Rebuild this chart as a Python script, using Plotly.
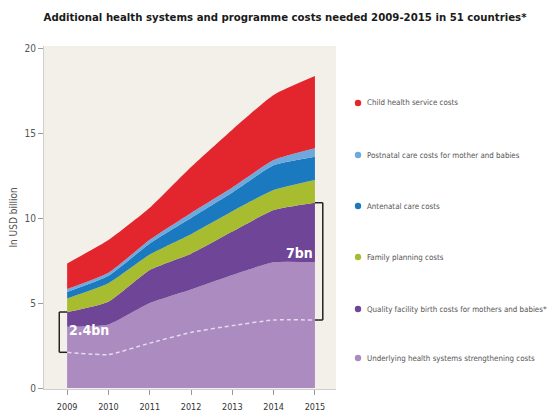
import plotly.graph_objects as go

years = [2009, 2010, 2011, 2012, 2013, 2014, 2015]

# component costs (USD billion), stacked bottom -> top
underlying = [3.6, 3.74, 5.0, 5.8, 6.65, 7.4, 7.4]
quality_birth = [0.87, 1.34, 1.94, 2.1, 2.55, 3.07, 3.5]
family_planning = [0.8, 1.08, 0.91, 1.15, 1.2, 1.18, 1.34]
antenatal = [0.38, 0.44, 0.65, 0.95, 1.1, 1.45, 1.36]
postnatal = [0.17, 0.18, 0.22, 0.3, 0.3, 0.31, 0.5]
child_health = [1.51, 1.92, 1.88, 2.7, 3.4, 3.83, 4.25]

# dashed reference line inside the underlying layer
baseline = [2.1, 1.97, 2.64, 3.27, 3.67, 4.0, 4.0]

series_names = [
    "Underlying health systems strengthening costs",
    "Quality facility birth costs for mothers and babies**",
    "Family planning costs",
    "Antenatal care costs",
    "Postnatal care costs for mother and babies",
    "Child health service costs",
]
series_values = [underlying, quality_birth, family_planning, antenatal, postnatal, child_health]
colors = ["#ab8bc0", "#6f4597", "#a7bd2f", "#1b79c0", "#6ea9dd", "#e3262d"]

bracket_labels = ["2.4bn", "7bn"]
title_text = "Additional health systems and programme costs needed 2009-2015 in 51 countries*"
y_title = "In USD billion"

FONT = "DejaVu Sans Condensed, Liberation Sans Narrow, Roboto, sans-serif"

fig = go.Figure()
for name, vals, col in zip(series_names, series_values, colors):
    fig.add_trace(go.Scatter(
        x=years, y=vals, name=name, stackgroup="one", mode="none",
        fillcolor=col, line=dict(shape="spline", smoothing=0.5, width=0),
        showlegend=False, hoverinfo="skip",
    ))

fig.add_trace(go.Scatter(
    x=years, y=baseline, mode="lines", showlegend=False,
    line=dict(color="#e6dcee", width=1.5, dash="4px,3px", shape="spline", smoothing=0.5),
))

# bracket end points derived from data
top09 = underlying[0] + quality_birth[0]
top15 = underlying[-1] + quality_birth[-1]
shapes = []
bl = years[0] - 0.19
br = years[-1] + 0.19
for (xv, x0, y0, y1) in [(bl, years[0], baseline[0], top09), (br, years[-1], baseline[-1], top15)]:
    shapes.append(dict(type="line", x0=xv, x1=xv, y0=y0, y1=y1, xref="x", yref="y",
                       line=dict(color="#222222", width=1.5)))
    shapes.append(dict(type="line", x0=xv, x1=x0, y0=y0, y1=y0, xref="x", yref="y",
                       line=dict(color="#222222", width=1.5)))
    shapes.append(dict(type="line", x0=xv, x1=x0, y0=y1, y1=y1, xref="x", yref="y",
                       line=dict(color="#222222", width=1.5)))

annotations = [
    dict(x=years[0] + 0.0, y=3.4, xref="x", yref="y", text="<b>" + bracket_labels[0] + "</b>",
         showarrow=False, xanchor="left", yanchor="middle",
         font=dict(family=FONT, size=14, color="white")),
    dict(x=years[-1] - 0.0, y=7.95, xref="x", yref="y", text="<b>" + bracket_labels[1] + "</b>",
         showarrow=False, xanchor="right", yanchor="middle",
         font=dict(family=FONT, size=14, color="white")),
]

# page offset (browser body margin) compensation
OFF = 8
W, H = 555 - OFF, 416 - OFF
# plot area in window pixels
plot_l, plot_r, plot_t, plot_b = 44, 336, 46, 389
pw, ph = plot_r - plot_l, plot_b - plot_t

# manual legend (top item = child health)
leg_y = [103, 155, 206, 257, 309, 358]
for i, idx in enumerate(range(len(series_names) - 1, -1, -1)):
    py = leg_y[i]
    yp = (plot_b - py) / ph
    xm = (358 - plot_l) / pw
    r = 3.2
    shapes.append(dict(type="circle", xref="paper", yref="paper",
                       x0=xm - r / pw, x1=xm + r / pw, y0=yp - r / ph, y1=yp + r / ph,
                       fillcolor=colors[idx], line=dict(width=0)))
    annotations.append(dict(x=(365 - plot_l) / pw, y=yp, xref="paper", yref="paper",
                            text=series_names[idx], showarrow=False, xanchor="left", yanchor="middle",
                            font=dict(family=FONT, size=7.9, color="#555555")))

fig.update_layout(
    width=W, height=H,
    margin=dict(l=plot_l - OFF, r=W - (plot_r - OFF), t=plot_t - OFF, b=H - (plot_b - OFF)),
    paper_bgcolor="white", plot_bgcolor="#f3f0ea",
    title=dict(text="<b>" + title_text + "</b>", x=(285 - OFF) / W, xanchor="center",
               y=1 - (17 - OFF) / H, yanchor="middle",
               font=dict(family=FONT, size=11.3, color="#1a1a1a")),
    xaxis=dict(range=[2008.44, 2015.51], tickmode="array", tickvals=years, automargin=False,
               ticktext=[str(y) for y in years], showgrid=False, zeroline=False,
               showline=True, linecolor="#cfcfcf", linewidth=1,
               ticks="outside", ticklen=5, tickcolor="#999999", ticklabelstandoff=4,
               tickfont=dict(family=FONT, size=9, color="#333333")),
    yaxis=dict(range=[-1 / 17, 20.12], tickvals=[0, 5, 10, 15, 20], showgrid=False, zeroline=False,
               showline=True, linecolor="#cfcfcf", linewidth=1, automargin=False,
               ticks="outside", ticklen=5, tickcolor="#999999",
               title=dict(text=y_title, standoff=8,
                          font=dict(family=FONT, size=10, color="#555555")),
               tickfont=dict(family=FONT, size=10, color="#555555")),
    shapes=shapes, annotations=annotations,
)

fig.write_html("out.html")
